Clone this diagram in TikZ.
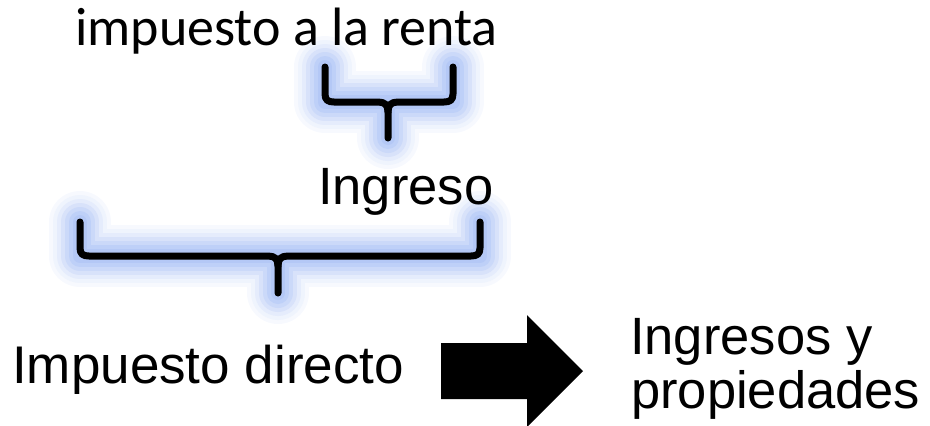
\documentclass[tikz,border=0pt]{standalone}
\usepackage{fontspec}
\setmainfont{Liberation Sans}
\newfontfamily\calibrifont{Carlito}
\usepackage{xcolor}
\definecolor{glowblue}{RGB}{125,160,240}
\tikzset{
  bracestroke/.style={line width=7pt,line cap=round,line join=round,black},
  bracesoft/.style={line width=#1,line cap=round,line join=round},
  bigtext/.style={anchor=base west,inner sep=0pt,font=\fontsize{52.5}{60}\selectfont}
}

\begin{document}
\begin{tikzpicture}[x=1pt,y=-1pt]
          \useasboundingbox (0,0) rectangle (930,426);
          % glow behind the braces
          \foreach \w/\c in {62/6,54/12,46/20,38/30,30/40,22/50,14/58} {
            \draw[bracesoft=\w pt,glowblue!\c] (325,67) -- (325,102) -- (453,102) -- (453,67)
              (388,102) -- (388,138);
            \draw[bracesoft=\w pt,glowblue!\c] (80,222) -- (80,256) -- (480,256) -- (480,222)
              (278,256) -- (278,293);
          }
          % small brace
          \draw[bracestroke] (325,67) -- (325,94) .. controls (325,100) and (328,102) .. (334,102)
            -- (378,102) .. controls (385,102) and (388,105) .. (388,112) -- (388,138);
          \draw[bracestroke] (453,67) -- (453,94) .. controls (453,100) and (450,102) .. (444,102)
            -- (398,102) .. controls (391,102) and (388,105) .. (388,112);
          % big brace
          \draw[bracestroke] (80,222) -- (80,248) .. controls (80,254) and (83,256) .. (89,256)
            -- (268,256) .. controls (275,256) and (278,259) .. (278,266) -- (278,293);
          \draw[bracestroke] (480,222) -- (480,248) .. controls (480,254) and (477,256) .. (471,256)
            -- (288,256) .. controls (281,256) and (278,259) .. (278,266);
          % labels
          \node[bigtext,font=\calibrifont\fontsize{54}{60}\selectfont] (renta) at (75,45) {impuesto a la renta};
          \node[bigtext] (ingreso) at (318,204) {Ingreso};
          \node[bigtext,font=\fontsize{53}{60}\selectfont] (directo) at (12,383) {Impuesto directo};
          \node[bigtext] (ingresos) at (630,354) {Ingresos y};
          \node[bigtext] (propiedades) at (631,408) {propiedades};
          % block arrow
          \fill[black] (441,343) -- (527,343) -- (527,315) -- (583,371) -- (527,427) -- (527,399)
            -- (441,399) -- cycle;
        \end{tikzpicture}
\end{document}
